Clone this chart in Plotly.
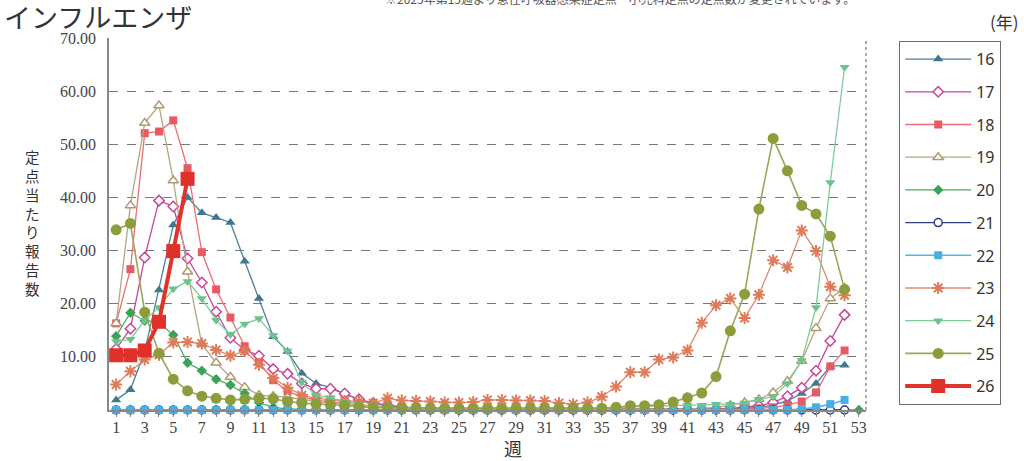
import plotly.graph_objects as go

weeks52 = list(range(1, 53))
weeks53 = list(range(1, 54))

s16 = [1.9, 3.8, 11.0, 22.6, 34.8, 40.0, 37.1, 36.2, 35.3, 28.0, 21.0, 13.8, 11.0, 6.9, 5.0, 4.2, 3.1, 1.9, 1.2, 0.8,
       0.5, 0.4, 0.3, 0.2, 0.2, 0.1, 0.1, 0.1, 0.1, 0.1, 0.1, 0.1, 0.1, 0.1, 0.1, 0.1, 0.1, 0.1, 0.1, 0.1,
       0.1, 0.1, 0.2, 0.2, 0.3, 0.5, 0.9, 1.7, 3.1, 5.0, 8.2, 8.4]
s17 = [11.5, 15.3, 28.7, 39.4, 38.3, 28.5, 24.0, 18.5, 13.6, 11.3, 10.2, 7.7, 6.8, 5.0, 4.0, 4.0, 3.1, 2.0, 1.3, 0.9,
       0.6, 0.4, 0.3, 0.2, 0.1, 0.1, 0.1, 0.1, 0.1, 0.1, 0.1, 0.1, 0.1, 0.1, 0.1, 0.1, 0.1, 0.1, 0.1, 0.1,
       0.1, 0.2, 0.2, 0.3, 0.5, 0.8, 1.4, 2.6, 4.2, 7.4, 13.0, 17.9]
s18 = [16.3, 26.5, 52.1, 52.4, 54.5, 45.5, 29.7, 22.7, 17.4, 12.0, 9.0, 5.6, 3.5, 2.5, 1.8, 1.6, 1.3, 1.0, 0.7, 0.5,
       0.4, 0.3, 0.2, 0.1, 0.1, 0.1, 0.1, 0.1, 0.1, 0.1, 0.1, 0.1, 0.1, 0.1, 0.1, 0.1, 0.1, 0.1, 0.1, 0.1,
       0.1, 0.1, 0.1, 0.1, 0.2, 0.3, 0.5, 0.9, 1.6, 3.3, 8.2, 11.2]
s19 = [16.3, 38.5, 54.0, 57.3, 43.2, 26.0, 12.4, 8.9, 6.2, 4.3, 2.8, 2.6, 2.4, 2.0, 1.6, 1.3, 1.0, 0.7, 0.5, 0.4,
       0.3, 0.2, 0.2, 0.1, 0.1, 0.1, 0.1, 0.1, 0.1, 0.1, 0.1, 0.1, 0.1, 0.1, 0.1, 0.1, 0.1, 0.1, 0.1, 0.1,
       0.2, 0.3, 0.5, 0.9, 1.4, 2.0, 3.3, 5.4, 9.2, 15.4, 21.0, 22.9]
s20 = [13.9, 18.3, 16.8, 16.5, 14.1, 8.9, 7.4, 5.8, 4.7, 3.1, 1.4, 0.5, 0.2, 0.1, 0.1, 0.0, 0.0, 0.0, 0.0, 0.0,
       0.0, 0.0, 0.0, 0.0, 0.0, 0.0, 0.0, 0.0, 0.0, 0.0, 0.0, 0.0, 0.0, 0.0, 0.0, 0.0, 0.0, 0.0, 0.0, 0.0,
       0.0, 0.0, 0.0, 0.0, 0.0, 0.0, 0.0, 0.0, 0.0, 0.0, 0.0, 0.0, 0.0]
s21 = [0.0, 0.0, 0.0, 0.0, 0.0, 0.0, 0.0, 0.0, 0.0, 0.0, 0.0, 0.0, 0.0, 0.0, 0.0, 0.0, 0.0, 0.0, 0.0, 0.0,
       0.0, 0.0, 0.0, 0.0, 0.0, 0.0, 0.0, 0.0, 0.0, 0.0, 0.0, 0.0, 0.0, 0.0, 0.0, 0.0, 0.0, 0.0, 0.0, 0.0,
       0.0, 0.0, 0.0, 0.0, 0.0, 0.0, 0.0, 0.0, 0.0, 0.0, 0.0, 0.0]
s22 = [0.0, 0.0, 0.0, 0.0, 0.0, 0.0, 0.0, 0.0, 0.0, 0.0, 0.0, 0.0, 0.0, 0.0, 0.0, 0.0, 0.0, 0.0, 0.0, 0.0,
       0.0, 0.0, 0.0, 0.0, 0.0, 0.0, 0.0, 0.0, 0.0, 0.0, 0.0, 0.0, 0.0, 0.0, 0.0, 0.0, 0.0, 0.0, 0.0, 0.0,
       0.0, 0.0, 0.0, 0.0, 0.0, 0.0, 0.0, 0.05, 0.2, 0.5, 1.1, 1.9]
s23 = [4.8, 7.3, 9.5, 10.4, 12.7, 12.8, 12.5, 11.3, 10.2, 11.1, 8.5, 6.0, 4.2, 2.8, 2.2, 1.9, 1.7, 1.6, 1.3, 2.2,
       1.8, 1.7, 1.6, 1.4, 1.4, 1.5, 1.9, 1.9, 1.8, 1.8, 1.7, 1.3, 1.1, 1.4, 2.5, 4.4, 7.1, 7.1, 9.5, 9.9,
       11.2, 16.4, 19.7, 21.0, 17.3, 21.7, 28.2, 26.8, 33.8, 29.9, 23.2, 21.6]
s24 = [12.9, 13.3, 16.9, 19.3, 22.8, 24.2, 21.0, 16.9, 14.2, 16.2, 17.2, 14.0, 11.1, 5.2, 2.8, 2.3, 1.6, 1.0, 0.7, 0.5,
       0.4, 0.3, 0.3, 0.3, 0.3, 0.3, 0.3, 0.3, 0.3, 0.3, 0.3, 0.3, 0.3, 0.3, 0.4, 0.5, 0.6, 0.7, 0.8, 0.9,
       0.9, 0.9, 1.1, 1.1, 1.3, 2.0, 2.5, 5.0, 9.3, 19.3, 42.8, 64.5]
s25 = [33.9, 35.1, 18.4, 10.7, 5.8, 3.6, 2.6, 2.2, 1.9, 2.0, 2.2, 2.1, 1.6, 1.3, 1.1, 1.0, 0.9, 0.6, 0.5, 0.45,
       0.35, 0.35, 0.35, 0.35, 0.35, 0.35, 0.35, 0.35, 0.35, 0.35, 0.35, 0.35, 0.35, 0.35, 0.35, 0.5, 0.8, 0.8, 1.0, 1.5,
       2.3, 3.2, 6.3, 14.9, 21.8, 37.8, 51.1, 45.0, 38.5, 36.9, 32.7, 22.7]
weeks26 = [1, 2, 3, 4, 5, 6]
s26 = [10.3, 10.3, 11.2, 16.6, 29.9, 43.5]

names = ["16", "17", "18", "19", "20", "21", "22", "23", "24", "25", "26"]
xs = [weeks52, weeks52, weeks52, weeks52, weeks53, weeks52, weeks52, weeks52, weeks52, weeks52, weeks26]
ys = [s16, s17, s18, s19, s20, s21, s22, s23, s24, s25, s26]

line_colors = ["#4d7f97", "#c8479a", "#ea6e72", "#b7a582", "#4aab63", "#2e3d86", "#5ab4e5",
               "#e08a6c", "#7ccb98", "#98a85a", "#e0332c"]
marker_colors = ["#43778f", "#c8479a", "#e85a63", "#b09a72", "#3ca257", "#2b3a82", "#47aee6",
                 "#e07b5a", "#6cc48c", "#8c9e3c", "#e0302a"]
symbols = ["triangle-up", "diamond", "square", "triangle-up", "diamond", "circle", "square",
           "asterisk-open", "triangle-down", "circle", "square"]
fills = [None, "white", None, "white", None, "white", None, None, None, None, None]
sizes = [9, 8, 8, 9, 8, 8, 8, 10, 9, 11, 14]
widths = [1.3, 1.3, 1.3, 1.3, 1.3, 1.3, 1.6, 1.3, 1.3, 1.6, 4.0]

fig = go.Figure()
for i, nm in enumerate(names):
    mc = marker_colors[i]
    if symbols[i] == "asterisk-open":
        marker = dict(symbol=symbols[i], size=sizes[i], color=mc, line=dict(color=mc, width=2))
    elif fills[i] is not None:
        marker = dict(symbol=symbols[i], size=sizes[i], color=fills[i], line=dict(color=mc, width=1.5))
    else:
        marker = dict(symbol=symbols[i], size=sizes[i], color=mc, line=dict(color=mc, width=0))
    fig.add_trace(go.Scatter(
        x=xs[i], y=ys[i], name=nm, mode="lines+markers",
        line=dict(color=line_colors[i], width=widths[i]),
        marker=marker, cliponaxis=False, legendgroup=nm,
    ))

tickvals = list(range(1, 54, 2))
ticktext = [str(w) for w in tickvals]
serif = "Liberation Serif"

annotations = [
    dict(text="インフルエンザ", xref="paper", yref="paper", x=(2 - 109) / 757, y=1 + 22 / 372,
         xanchor="left", yanchor="middle", showarrow=False,
         font=dict(family="Noto Sans CJK JP", size=27, color="#333")),
    dict(text="※2025年第15週より急性呼吸器感染症定点・小児科定点の定点数が変更されています。",
         xref="paper", yref="paper", x=(383 - 109) / 757, y=1 + 40 / 372,
         xanchor="left", yanchor="middle", showarrow=False,
         font=dict(family="Noto Sans CJK JP", size=12, color="#555")),
    dict(text="(年)", xref="paper", yref="paper", x=(1004 - 109) / 757, y=1 + 17 / 372,
         xanchor="center", yanchor="middle", showarrow=False,
         font=dict(family="Noto Sans CJK JP", size=17, color="#333")),
    dict(text="週", xref="paper", yref="paper", x=(513 - 109) / 757, y=(410 - 448) / 372,
         xanchor="center", yanchor="middle", showarrow=False,
         font=dict(family="Noto Sans CJK JP", size=18, color="#333")),
    dict(text="定<br>点<br>当<br>た<br>り<br>報<br>告<br>数", xref="paper", yref="paper",
         x=(32 - 109) / 757, y=(410 - 222) / 372, xanchor="center", yanchor="middle",
         showarrow=False, font=dict(family="Noto Sans CJK JP", size=14.5, color="#333")),
]

fig.update_layout(
    width=1024, height=461,
    margin=dict(l=109, r=158, t=38, b=51),
    paper_bgcolor="white", plot_bgcolor="white",
    showlegend=True,
    legend=dict(
        x=(899 - 109) / 757, y=1 - 3 / 372, xanchor="left", yanchor="top",
        bordercolor="#6e6e6e", borderwidth=1.2,
        font=dict(family="Noto Sans", size=16, color="#333"),
        tracegroupgap=8.9, itemwidth=66, traceorder="grouped",
    ),
    xaxis=dict(
        range=[0.5, 53.5], tickmode="array", tickvals=tickvals, ticktext=ticktext,
        ticks="", ticklabelstandoff=2,
        minor=dict(tickmode="linear", tick0=1, dtick=1, ticks="outside", ticklen=5,
                   tickcolor="#888", tickwidth=1, showgrid=False),
        showline=True, linecolor="#888", linewidth=1.5,
        showgrid=False, zeroline=False,
        tickfont=dict(family=serif, size=16, color="#444"),
    ),
    yaxis=dict(
        range=[0, 70], tickvals=[10, 20, 30, 40, 50, 60, 70],
        tickformat=".2f", ticks="", ticklabelstandoff=8,
        showline=True, linecolor="#888", linewidth=1.5,
        showgrid=True, gridcolor="#777", griddash="dash", gridwidth=1.2,
        zeroline=False,
        tickfont=dict(family=serif, size=16, color="#444"),
    ),
    shapes=[dict(type="line", xref="paper", yref="paper", x0=1, x1=1, y0=0, y1=1,
                 line=dict(color="#777", width=1.2, dash="dot"))],
    annotations=annotations,
)

fig.write_html("out.html", config={"displayModeBar": False},
               post_script="document.body.style.margin='0';")
